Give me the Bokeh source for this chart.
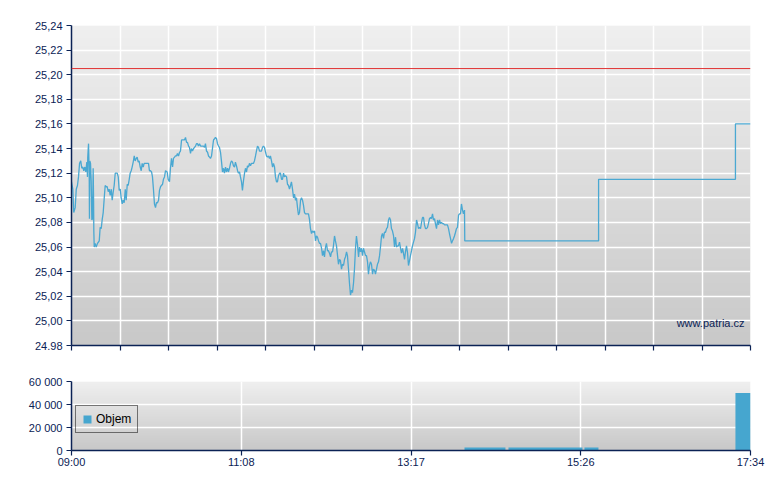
import numpy as np
from bokeh.plotting import figure
from bokeh.layouts import column
from bokeh.models import (Range1d, FixedTicker, CustomJSTickFormatter, Span, Label,
                          Legend, LegendItem, ColumnDataSource)
from bokeh.embed import file_html
from bokeh.resources import INLINE

# ---------------- data ----------------
session_minutes = 514  # 09:00 -> 17:34
prev_close = 25.205

# minutes after 09:00
times = [
    0.0, 1.0, 1.7, 2.8, 3.6, 4.5, 5.3, 6.1, 7.0, 7.8, 8.6, 9.3, 10.1, 10.8, 11.6, 12.1, 12.3, 12.9,
    13.4, 13.6, 13.9, 14.4, 14.9, 15.4, 15.9, 16.4, 16.7, 16.9, 17.2, 17.9, 18.7, 19.7, 21.0, 21.7,
    22.5, 23.2, 24.0, 24.8, 25.5, 26.3, 27.0, 27.8, 28.5, 29.3, 30.1, 30.8, 31.6, 32.3, 33.1, 33.8,
    34.6, 35.4, 36.1, 36.9, 37.6, 38.4, 39.1, 39.9, 40.7, 41.4, 42.2, 42.9, 43.7, 44.4, 45.2, 45.9,
    46.7, 47.5, 48.2, 49.0, 49.7, 50.5, 51.2, 52.0, 52.8, 53.5, 54.3, 55.0, 55.8, 56.5, 57.3, 58.3,
    59.0, 59.8, 60.6, 61.3, 62.1, 62.8, 63.6, 64.3, 65.1, 65.9, 66.6, 67.4, 68.1, 68.9, 69.6, 70.4,
    71.2, 72.4, 73.2, 74.2, 74.9, 75.7, 76.5, 77.2, 78.0, 78.7, 79.5, 80.2, 81.0, 81.8, 82.5, 83.3,
    84.0, 84.8, 85.5, 86.3, 87.1, 87.8, 88.6, 89.3, 90.1, 90.8, 91.6, 92.4, 93.1, 93.9, 94.6, 95.4,
    96.1, 96.9, 97.7, 98.4, 99.2, 99.9, 100.7, 101.4, 102.2, 103.0, 103.7, 104.5, 105.2, 106.0,
    106.7, 107.5, 108.3, 109.0, 109.8, 110.5, 111.3, 112.0, 112.8, 113.6, 114.3, 115.1, 115.8,
    116.6, 117.3, 118.1, 118.8, 119.6, 120.4, 121.1, 121.9, 122.6, 123.4, 124.1, 124.9, 125.7,
    126.4, 127.2, 127.9, 128.7, 129.4, 130.2, 131.0, 131.7, 132.5, 133.2, 134.0, 134.7, 135.5,
    136.3, 137.0, 137.8, 138.5, 139.3, 140.0, 140.8, 141.6, 142.3,
    143.1, 143.8, 144.6, 145.3, 146.1, 146.9, 147.6, 148.4, 149.1, 149.9, 150.6, 151.4, 152.2,
    152.9, 153.7, 154.4, 155.2, 155.9, 156.7, 157.5, 158.2, 159.0, 159.7, 160.5, 161.2, 162.0,
    162.8, 163.5, 164.3, 165.0, 165.8, 166.5, 167.3, 168.1, 168.8, 169.6, 170.3, 171.1, 171.8,
    172.6, 173.4, 174.1, 174.9, 175.6, 176.4, 177.1, 177.9, 178.7, 179.4, 180.2, 180.9, 181.7,
    182.4, 183.2, 184.0, 184.7, 185.5, 186.2, 187.0, 187.7, 188.5, 189.3, 190.0, 190.8, 191.5,
    192.3, 193.0, 193.8, 194.5, 195.3, 196.1, 196.8, 197.6, 198.3, 199.1, 199.8, 200.6, 201.4,
    202.1, 202.9, 203.6, 204.4, 205.1, 205.9, 206.7, 207.4, 208.2, 208.9, 209.7, 210.4, 211.2,
    212.0, 212.7, 213.5, 214.2,
    215.0, 215.7, 216.5, 217.3, 218.0, 218.8, 219.5, 220.3, 221.0, 221.8, 222.6, 223.3, 224.1,
    224.8, 225.6, 226.3, 227.1, 227.9, 228.6, 229.4, 230.1, 230.9, 231.6, 232.4, 233.2, 233.9,
    234.7, 235.4, 236.2, 236.9, 237.7, 238.5, 239.2, 240.0, 240.7, 241.5, 242.2, 243.0, 243.8,
    244.5, 245.3, 246.0, 246.8, 247.5, 248.3, 249.1, 249.8, 250.6, 251.3, 252.1, 252.8, 253.6,
    254.4, 255.1, 255.9, 256.6, 257.4, 258.1, 258.9, 259.7, 260.4, 261.2, 261.9, 262.7, 263.4,
    264.2, 265.0, 265.7, 266.5, 267.2, 268.0, 268.7, 269.5, 270.2, 271.0, 271.8, 272.5, 273.3,
    274.0, 274.8, 275.5, 276.3, 277.1, 277.8, 278.6, 279.3, 280.1, 280.8, 281.6, 282.4, 283.1,
    283.9, 284.6, 285.4, 286.1, 286.9, 287.7, 288.4, 289.2, 289.9, 290.7, 291.4, 292.2, 293.0,
    293.7, 294.5, 295.2, 296.0, 296.7, 297.5, 297.7, 399.0, 399.0, 502.6, 502.6, 514.0,
]

prices = [
    25.113, 25.107, 25.088, 25.092, 25.107, 25.110, 25.117, 25.128, 25.130, 25.124, 25.125, 25.122,
    25.125, 25.121, 25.129, 25.117, 25.133, 25.144, 25.120, 25.083, 25.130, 25.128, 25.114, 25.082,
    25.083, 25.124, 25.100, 25.073, 25.060, 25.063, 25.060, 25.063, 25.065, 25.076, 25.075, 25.082,
    25.088, 25.100, 25.110, 25.109, 25.109, 25.105, 25.107, 25.102, 25.107, 25.098, 25.105, 25.110,
    25.120, 25.120, 25.120, 25.117, 25.106, 25.107, 25.100, 25.095, 25.098, 25.096, 25.107, 25.098,
    25.111, 25.110, 25.115, 25.120, 25.122, 25.125, 25.129, 25.134, 25.130, 25.132, 25.133, 25.129,
    25.130, 25.125, 25.122, 25.128, 25.125, 25.128, 25.128, 25.128, 25.128, 25.128, 25.122, 25.122,
    25.121, 25.117, 25.106, 25.095, 25.092, 25.096, 25.096, 25.098, 25.106, 25.109, 25.110, 25.111,
    25.115, 25.117,
    25.122, 25.121, 25.115, 25.113, 25.124, 25.132, 25.125, 25.132, 25.133, 25.134, 25.134, 25.136,
    25.134, 25.137, 25.138, 25.147, 25.147, 25.147, 25.147, 25.149, 25.145, 25.145, 25.142, 25.141,
    25.136, 25.140, 25.138, 25.140, 25.141, 25.142, 25.144, 25.144, 25.142, 25.144, 25.142, 25.142,
    25.142, 25.142, 25.141, 25.144, 25.138, 25.137, 25.134, 25.133, 25.132, 25.134, 25.140, 25.147,
    25.148, 25.149, 25.148, 25.144, 25.142, 25.141, 25.137, 25.129, 25.121, 25.124, 25.120, 25.125,
    25.121, 25.124, 25.121, 25.124, 25.128, 25.130, 25.129, 25.126, 25.125, 25.129, 25.126, 25.122,
    25.120, 25.121, 25.117, 25.113, 25.106, 25.114, 25.120, 25.124, 25.121, 25.126, 25.125, 25.128,
    25.126, 25.128, 25.128, 25.128, 25.130, 25.134, 25.138, 25.142, 25.141, 25.138,
    25.138, 25.138, 25.141, 25.142, 25.141, 25.137, 25.134, 25.133, 25.134, 25.132, 25.134, 25.130,
    25.125, 25.128, 25.125, 25.117, 25.113, 25.113, 25.118, 25.120, 25.120, 25.115, 25.115, 25.120,
    25.117, 25.118, 25.117, 25.111, 25.110, 25.107, 25.110, 25.113, 25.107, 25.100, 25.103, 25.098,
    25.100, 25.092, 25.086, 25.088, 25.098, 25.100, 25.098, 25.094, 25.088, 25.087, 25.087, 25.087,
    25.087, 25.082, 25.075, 25.071, 25.073, 25.072, 25.073, 25.065, 25.069, 25.068, 25.065, 25.063,
    25.063, 25.059, 25.053, 25.057, 25.052, 25.060, 25.063, 25.057, 25.057, 25.055, 25.052, 25.056,
    25.056, 25.061, 25.069, 25.065, 25.061, 25.053, 25.046, 25.050, 25.049, 25.042, 25.046, 25.045,
    25.050, 25.052, 25.056, 25.053, 25.042, 25.031, 25.021, 25.025, 25.023, 25.031, 25.042,
    25.059, 25.069, 25.062, 25.052, 25.060, 25.056, 25.059, 25.053, 25.059, 25.056, 25.053, 25.053,
    25.048, 25.038, 25.045, 25.048, 25.046, 25.038, 25.042, 25.041, 25.038, 25.042, 25.046, 25.048,
    25.053, 25.060, 25.069, 25.071, 25.067, 25.072, 25.072, 25.075, 25.076, 25.082, 25.084, 25.082,
    25.075, 25.073, 25.069, 25.060, 25.068, 25.060, 25.061, 25.061, 25.064, 25.059, 25.055, 25.059,
    25.055, 25.050, 25.056, 25.061, 25.055, 25.045, 25.049, 25.053, 25.057, 25.061, 25.064, 25.067,
    25.072, 25.082, 25.079, 25.075, 25.076, 25.075, 25.080, 25.084, 25.084, 25.078, 25.075, 25.075,
    25.076, 25.079, 25.083, 25.084, 25.083, 25.087, 25.082, 25.083, 25.079, 25.075, 25.082, 25.078,
    25.082, 25.079, 25.080, 25.079, 25.079, 25.078, 25.078, 25.078, 25.078, 25.075, 25.071, 25.067,
    25.063, 25.065, 25.067, 25.069, 25.072, 25.075, 25.076, 25.086, 25.087, 25.087, 25.095, 25.090,
    25.087, 25.090, 25.065, 25.065, 25.115, 25.115, 25.160, 25.160,
]

vol_start = [297.5, 330.8, 388.3, 502.6]
vol_end = [328.5, 386.8, 398.9, 514.0]
volumes = [2600, 2600, 2600, 50000]

price_ticks = [24.98, 25.00, 25.02, 25.04, 25.06, 25.08, 25.10, 25.12, 25.14, 25.16, 25.18, 25.20, 25.22, 25.24]
price_labels = ["24.98", "25,00", "25,02", "25,04", "25,06", "25,08", "25,10", "25,12", "25,14",
                "25,16", "25,18", "25,20", "25,22", "25,24"]
vol_ticks = [0, 20000, 40000, 60000]
vol_labels = ["0", "20 000", "40 000", "60 000"]
time_labels = ["09:00", "11:08", "13:17", "15:26", "17:34"]

# ---------------- styling helpers ----------------
AXIS = "#0b2255"
FONT = "Liberation Sans"


def gradient(n, top, bottom):
    img = np.empty((n, 2), dtype=np.uint32)
    v = img.view(dtype=np.uint8).reshape((n, 2, 4))
    for i in range(n):
        c = int(round(bottom + (top - bottom) * i / (n - 1)))
        v[i, :, 0] = c
        v[i, :, 1] = c
        v[i, :, 2] = c
        v[i, :, 3] = 255
    return img


def style_axes(p):
    for ax in (p.xaxis[0], p.yaxis[0]):
        ax.axis_line_color = AXIS
        ax.axis_line_width = 1.5
        ax.major_tick_line_color = AXIS
        ax.major_tick_line_width = 1.2
        ax.major_tick_out = 5
        ax.major_tick_in = 0
        ax.minor_tick_line_color = None
        ax.major_label_text_color = AXIS
        ax.major_label_text_font = FONT
        ax.major_label_text_font_size = "11px"
    p.xgrid.grid_line_color = "white"
    p.ygrid.grid_line_color = "white"
    p.xgrid.grid_line_width = 1.5
    p.ygrid.grid_line_width = 1.5
    p.outline_line_color = None
    p.background_fill_color = "white"
    p.border_fill_color = "white"


x_range = Range1d(0, session_minutes)

# ---------------- price chart ----------------
p1 = figure(frame_width=679, frame_height=320, min_border_left=71, min_border_right=22,
            min_border_top=25, min_border_bottom=12,
            x_range=x_range, y_range=Range1d(price_ticks[0], price_ticks[-1]),
            output_backend="svg", toolbar_location=None)
style_axes(p1)

bg1 = p1.image_rgba(image=[gradient(320, 239, 200)], x=0, y=price_ticks[0],
                    dw=session_minutes, dh=price_ticks[-1] - price_ticks[0])
bg1.level = "image"

top_ticks = list(np.linspace(0, session_minutes, 15))
p1.xaxis.ticker = FixedTicker(ticks=top_ticks)
p1.xgrid.ticker = FixedTicker(ticks=top_ticks)
p1.xaxis.formatter = CustomJSTickFormatter(code="return '';")
p1.xaxis.major_label_standoff = 0
p1.yaxis.ticker = FixedTicker(ticks=price_ticks)
p1.ygrid.ticker = FixedTicker(ticks=price_ticks)
p1.yaxis.major_label_standoff = 4
p1.yaxis.formatter = CustomJSTickFormatter(args=dict(labels=price_labels), code="return labels[index];")

p1.add_layout(Span(location=prev_close, dimension="width", line_color="#e03030", line_width=1))
p1.line(times, prices, line_color="#4aa8d2", line_width=1.3)

p1.add_layout(Label(x=session_minutes, y=price_ticks[0], x_offset=-6, y_offset=23,
                    text="www.patria.cz", text_align="right", text_baseline="alphabetic",
                    text_font=FONT, text_font_size="11px", text_color=AXIS))

# ---------------- volume chart ----------------
p2 = figure(frame_width=679, frame_height=69, min_border_left=71, min_border_right=22,
            min_border_top=24, min_border_bottom=28,
            x_range=x_range, y_range=Range1d(vol_ticks[0], vol_ticks[-1]),
            output_backend="svg", toolbar_location=None)
style_axes(p2)
bg2 = p2.image_rgba(image=[gradient(69, 239, 200)], x=0, y=vol_ticks[0],
                    dw=session_minutes, dh=vol_ticks[-1] - vol_ticks[0])
bg2.level = "image"

bottom_ticks = list(np.linspace(0, session_minutes, len(time_labels)))
p2.xaxis.ticker = FixedTicker(ticks=bottom_ticks)
p2.xgrid.ticker = FixedTicker(ticks=bottom_ticks)
p2.xaxis.major_label_standoff = 0
p2.xaxis.formatter = CustomJSTickFormatter(args=dict(labels=time_labels), code="return labels[index];")
p2.yaxis.ticker = FixedTicker(ticks=vol_ticks)
p2.ygrid.ticker = FixedTicker(ticks=vol_ticks)
p2.yaxis.major_label_standoff = 4
p2.yaxis.formatter = CustomJSTickFormatter(args=dict(labels=vol_labels), code="return labels[index];")

vsrc = ColumnDataSource(dict(left=vol_start, right=vol_end, top=volumes, bottom=[0] * len(volumes)))
bars = p2.quad(left="left", right="right", top="top", bottom="bottom", source=vsrc,
               fill_color="#46a6cf", line_color=None)

legend = Legend(items=[LegendItem(label="Objem", renderers=[bars])], location=(4, 17),
                background_fill_alpha=0, border_line_color="black", border_line_width=1,
                padding=6, glyph_width=10, glyph_height=10, label_height=14, label_standoff=4,
                label_text_font=FONT, label_text_font_size="12px", label_text_color="black",
                margin=0)
p2.add_layout(legend)

layout = column(p1, p2, spacing=0)
open("out.html", "w").write(file_html(layout, INLINE))
